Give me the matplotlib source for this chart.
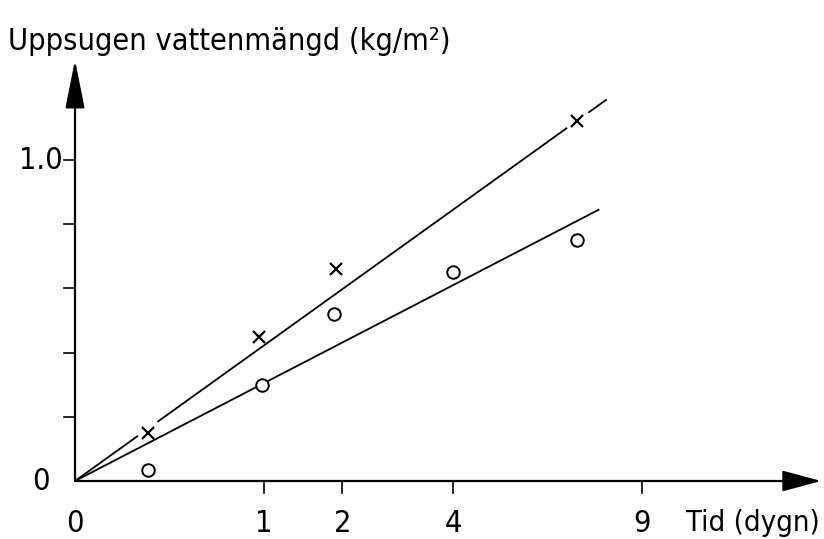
import numpy as np
import matplotlib
matplotlib.use("Agg")
import matplotlib.pyplot as plt

plt.rcParams['font.family'] = ['DejaVu Sans']
plt.rcParams['font.stretch'] = 'condensed'

# measured points (time in days, absorbed water kg/m2)
t_cross = [0.15, 0.95, 1.9, 7.05]
w_cross = [0.15, 0.45, 0.66, 1.12]
t_circle = [0.15, 0.98, 1.88, 4.0, 7.05]
w_circle = [0.035, 0.30, 0.52, 0.65, 0.75]

# fitted lines: w = k * sqrt(t)
k_upper = 0.4225
k_lower = 0.305
upper_end = 2.81   # sqrt(t) where drawn line stops
lower_end = 2.77

x_ticks = [1, 2, 4, 9]
x_ticklabels = ['1', '2', '4', '9']
y_ticks = [0.2, 0.4, 0.6, 0.8, 1.0]

W, H = 824, 539
fig = plt.figure(figsize=(W / 100, H / 100), dpi=100)
x0, y0 = 75, 481
ux, uy = 189.0, 321.0
xmax = (821 - x0) / ux
ymax = (y0 - 60) / uy
ax = fig.add_axes([x0 / W, (H - y0) / H, (821 - x0) / W, (y0 - 60) / H])
ax.set_xlim(0, xmax)
ax.set_ylim(0, ymax)
for s in ax.spines.values():
    s.set_visible(False)
ax.set_xticks([])
ax.set_yticks([])

# axes with arrows
ax.annotate('', xy=(xmax, 0), xytext=(0, 0),
            arrowprops=dict(arrowstyle='-|>,head_length=2.4,head_width=0.65',
                            lw=1.6, color='black', shrinkA=0, shrinkB=0),
            annotation_clip=False)
ax.annotate('', xy=(0, ymax), xytext=(0, 0),
            arrowprops=dict(arrowstyle='-|>,head_length=3.0,head_width=0.6',
                            lw=1.6, color='black', shrinkA=0, shrinkB=0),
            annotation_clip=False)

# ticks
tick_dx = 12 / ux
tick_dy = 12 / uy
for t in x_ticks:
    xs = np.sqrt(t)
    ax.plot([xs, xs], [0, -tick_dy], color='black', lw=1.2, clip_on=False)
for y in y_ticks:
    ax.plot([-tick_dx * 0.9, 0], [y, y], color='black', lw=1.2, clip_on=False)

fs = 22
for t, lab in zip(x_ticks, x_ticklabels):
    ax.text(np.sqrt(t), -42 / uy, lab, ha='center', va='center', fontsize=fs)
ax.text(0, -42 / uy, '0', ha='center', va='center', fontsize=fs)
ax.text(-34 / ux, 0, '0', ha='center', va='center', fontsize=fs)
ax.text(-34 / ux, 1.0, '1.0', ha='center', va='center', fontsize=fs)
ax.text((686 - x0) / ux, -42 / uy, 'Tid (dygn)', ha='left', va='center', fontsize=21)
fig.text(8 / W, 1 - 42 / H, 'Uppsugen vattenmängd (kg/m²)', ha='left', va='center',
         fontsize=fs)

# fitted lines, broken at the markers lying on them
segs_upper = [(0, 0.33), (0.44, 2.60), (2.72, upper_end)]
for a, b in segs_upper:
    xs = np.array([a, b])
    ax.plot(xs, k_upper * xs, color='black', lw=1.3)
xs = np.array([0, lower_end])
ax.plot(xs, k_lower * xs, color='black', lw=1.3)

ax.plot(np.sqrt(t_cross), w_cross, linestyle='none', marker='x', ms=8,
        mew=1.6, color='black', zorder=4)
ax.plot(np.sqrt(t_circle), w_circle, linestyle='none', marker='o', ms=9,
        mew=1.4, mfc='white', mec='black', zorder=4)

fig.savefig('out.png', dpi=100)
